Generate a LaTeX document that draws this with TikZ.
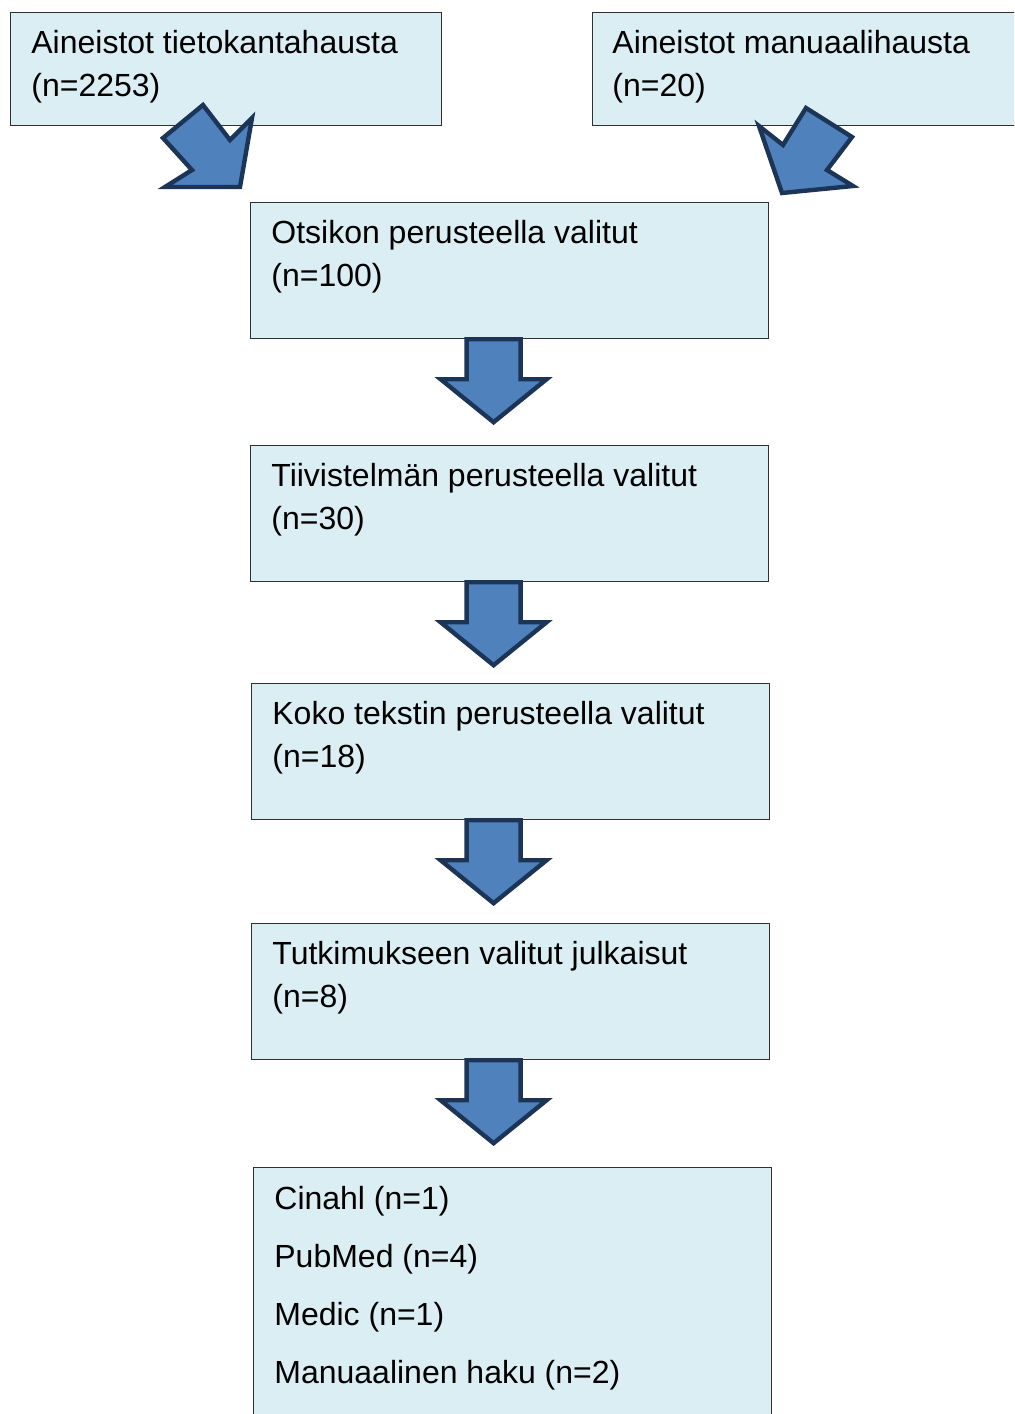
\documentclass[tikz,border=0pt]{standalone}
\usepackage{fontspec}
\setmainfont{Liberation Sans}

\definecolor{boxfill}{HTML}{DAEEF3}
\definecolor{boxline}{HTML}{303030}
\definecolor{arrowfill}{HTML}{4F81BD}
\definecolor{arrowline}{HTML}{1C3557}

\tikzset{
  box/.style={rectangle, draw=boxline, fill=boxfill, line width=0.6pt, anchor=north west, inner sep=0pt},
  txt/.style={anchor=base west, align=left, inner sep=0pt, font=\fontsize{16}{21.5}\selectfont},
  blockarrow/.style={draw=arrowline, fill=arrowfill, line width=2.2pt, line join=miter},
  downarrow/.pic={
    \draw[blockarrow] (-27,0) -- (-27,-40) -- (-53,-40) -- (0,-83) -- (53,-40) -- (27,-40) -- (27,0) -- cycle;
  }
}

\begin{document}
\begin{tikzpicture}[x=0.5pt, y=0.5pt]
    \useasboundingbox (0,0) rectangle (1014,-1414);
    \clip (0,0) rectangle (1014,-1414);

    % boxes
    \node[box, minimum width=215.5pt, minimum height=56.5pt] (tietokanta) at (10,-12) {};
    \node[box, minimum width=222pt, minimum height=56.5pt] (manuaali) at (592,-12) {};
    \node[box, minimum width=259pt, minimum height=68pt] (otsikko) at (250,-202) {};
    \node[box, minimum width=259pt, minimum height=68pt] (tiivis) at (250,-445) {};
    \node[box, minimum width=259pt, minimum height=68pt] (koko) at (251,-683) {};
    \node[box, minimum width=259pt, minimum height=68pt] (tutk) at (251,-923) {};
    \node[box, minimum width=259pt, minimum height=150pt] (tulos) at (253,-1167) {};

    % texts (base = last line)
    \node[txt] (tietokantatxt) at ([shift={(10.5pt,-42pt)}]tietokanta.north west) {Aineistot tietokantahausta\\(n=2253)};
    \node[txt] (manuaalitxt) at ([shift={(10pt,-42pt)}]manuaali.north west) {Aineistot manuaalihausta\\(n=20)};
    \node[txt] (otsikkotxt) at ([shift={(10.5pt,-42pt)}]otsikko.north west) {Otsikon perusteella valitut\\(n=100)};
    \node[txt] (tiivistxt) at ([shift={(10.5pt,-42pt)}]tiivis.north west) {Tiivistelmän perusteella valitut\\(n=30)};
    \node[txt] (kokotxt) at ([shift={(10.5pt,-42pt)}]koko.north west) {Koko tekstin perusteella valitut\\(n=18)};
    \node[txt] (tutktxt) at ([shift={(10.5pt,-42pt)}]tutk.north west) {Tutkimukseen valitut julkaisut\\(n=8)};
    \node[txt] (tulostxt) at ([shift={(10.5pt,-108pt)}]tulos.north west) {Cinahl (n=1)\\[7.5pt]PubMed (n=4)\\[7.5pt]Medic (n=1)\\[7.5pt]Manuaalinen haku (n=2)};

    % arrows
    \draw[blockarrow] (203,-105) -- (230,-140) -- (252,-118) -- (240,-187) -- (165,-187) -- (192,-170) -- (163,-138) -- cycle;
    \draw[blockarrow] (806,-108) -- (852,-137) -- (827,-170) -- (853,-186) -- (782,-193) -- (759,-126) -- (783,-145) -- cycle;
    \pic at ([xshift=-8pt]otsikko.south) {downarrow};
    \pic at ([xshift=-8pt]tiivis.south) {downarrow};
    \pic at ([xshift=-8.5pt]koko.south) {downarrow};
    \pic at ([xshift=-8.5pt]tutk.south) {downarrow};
\end{tikzpicture}
\end{document}
